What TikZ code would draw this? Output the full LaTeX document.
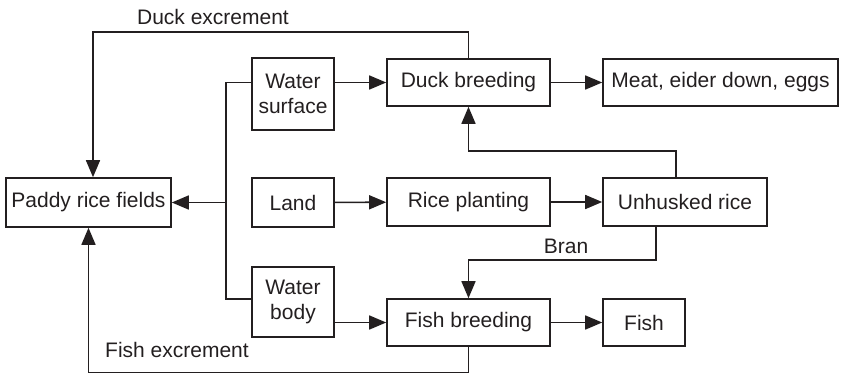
\documentclass[tikz,border=0pt]{standalone}
\usepackage{fontspec}
\setmainfont{Liberation Sans}
\usetikzlibrary{arrows.meta}
\definecolor{ink}{HTML}{231F20}
\tikzset{
  box/.style={draw=ink, text=ink, rectangle, line width=1.6pt, inner sep=2pt, align=center, font=\fontsize{21}{24.5}\selectfont},
  flow/.style={-{Triangle[length=17pt, width=14pt]}, draw=ink, line width=1.6pt},
  pipe/.style={draw=ink, line width=1.6pt},
  lbl/.style={text=ink, font=\fontsize{21}{24.5}\selectfont, inner sep=0pt}
}

\begin{document}
\begin{tikzpicture}[x=1pt, y=-1pt]
\useasboundingbox (0,0) rectangle (841,373);
% boxes
\node[box, minimum width=165pt, minimum height=49pt] (paddy) at (88.5,202.5) {Paddy rice fields};
\node[box, minimum width=82pt, minimum height=72pt] (wsurf) at (293,94) {Water\\surface};
\node[box, minimum width=82pt, minimum height=49pt] (land) at (293,202.5) {Land};
\node[box, minimum width=82pt, minimum height=70pt] (wbody) at (293,302) {Water\\body};
\node[box, minimum width=163pt, minimum height=47pt] (duck) at (468.5,82.5) {Duck breeding};
\node[box, minimum width=163pt, minimum height=48pt] (rice) at (468.5,202) {Rice planting};
\node[box, minimum width=163pt, minimum height=47pt] (fishb) at (468.5,322.5) {Fish breeding};
\node[box, minimum width=235pt, minimum height=47pt] (meat) at (720.5,82.5) {Meat, eider down, eggs};
\node[box, minimum width=164pt, minimum height=48pt] (husk) at (685,202) {Unhusked rice};
\node[box, minimum width=82pt, minimum height=47pt] (fishout) at (644,322.5) {Fish};
\coordinate (split) at (226,202.5);
% connectors
\draw[flow] (duck.north) -- ++(0,-26.5) -| ([xshift=4.5pt]paddy.north);
\node[lbl] (dexc) at (213,17) {Duck excrement};
\draw[pipe] (wsurf.west |- duck) -| (split) |- ([yshift=3pt]wbody.west);
\draw[flow] (split) -- (paddy.east);
\draw[flow] (wsurf.east |- duck) -- (duck.west);
\draw[flow] (duck) -- (meat);
\draw[flow] (land) -- (rice);
\draw[flow] (rice) -- (husk);
\draw[flow] ([xshift=-9pt]husk.north) -- ++(0,-26) -| (duck.south);
\draw[flow] ([xshift=-29pt]husk.south) -- ++(0,33) -| (fishb.north);
\node[lbl] (bran) at (566,246) {Bran};
\draw[flow] (wbody.east |- fishb) -- (fishb.west);
\draw[flow] (fishb) -- (fishout);
\draw[flow] (fishb.south) -- ++(0,25.5) -| (paddy.south);
\node[lbl] (fexc) at (177,350) {Fish excrement};
\end{tikzpicture}
\end{document}
